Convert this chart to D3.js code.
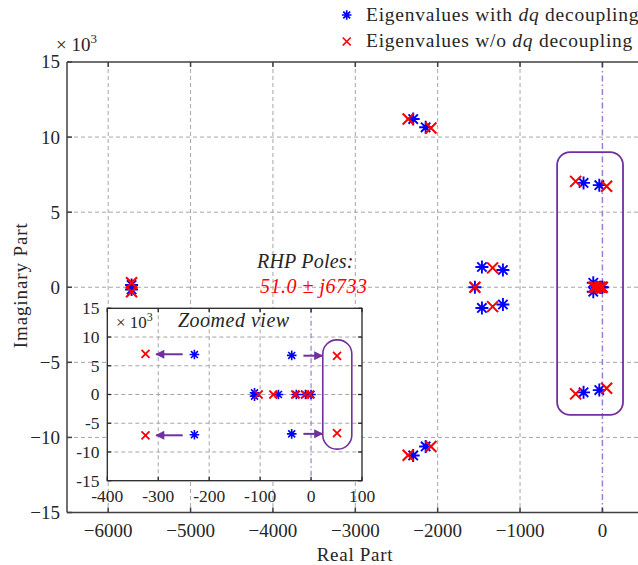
<!DOCTYPE html>
<html>
<head>
<meta charset="utf-8">
<script src="https://cdn.jsdelivr.net/npm/d3@7"></script>
<style>
	body { margin: 0; background: #fff; }
	text { font-family: 'Liberation Serif', 'DejaVu Serif', serif; fill: #262626; }
</style>
</head>
<body>
<div id="chart"></div>
<script>
// eigenvalues, [real part, imaginary part (x 10^3)]
const eigWith = [
	[-5716, 0.15], [-5716, -0.15],
	[-2297, 11.2], [-2146, 10.65], [-2297, -11.2], [-2146, -10.6],
	[-1548, 0], [-1463, 1.35], [-1208, 1.15], [-1463, -1.38], [-1208, -1.15],
	[-229, 6.95], [-38, 6.8], [-229, -7.0], [-38, -6.85],
	[-111, 0.3], [-111, -0.3], [-64, 0], [-29, 0], [-11, 0], [0, 0],
];
const eigWithout = [
	[-5716, 0.3], [-5716, -0.3],
	[-2358, 11.2], [-2082, 10.6], [-2358, -11.18], [-2082, -10.6],
	[-1548, 0], [-1333, 1.29], [-1333, -1.29],
	[-325, 7.05], [51, 6.733], [-325, -7.1], [51, -6.733],
	[-103, 0], [-74, 0], [-31, 0], [-12, 0], [-2, 0],
];
const xTicks = [-6000, -5000, -4000, -3000, -2000, -1000, 0];
const yTicks = [-15, -10, -5, 0, 5, 10, 15];
const xTicksInset = [-400, -300, -200, -100, 0, 100];
const yTicksInset = [-15, -10, -5, 0, 5, 10, 15];
const legendLabels = ['with', 'w/o'];
// arrows in the zoomed view: [x0, y0, x1, y1]
const insetArrows = [
	[-252, 7.0, -304, 7.0], [-252, -7.1, -304, -7.1],
	[-15, 6.75, 22, 6.75], [-15, -6.85, 22, -6.85],
];

const W = 638, H = 565;
const purple = '#7030a0';
const gridColor = '#a6a6a6';

const svg = d3.select('#chart').append('svg').attr('width', W).attr('height', H);

// main axes
const x = d3.scaleLinear().domain([-6500, 500]).range([67, 643.6]);
const y = d3.scaleLinear().domain([-15, 15]).range([512.5, 62]);

svg.append('clipPath').attr('id', 'clipMain')
	.append('rect').attr('x', x(-6500)).attr('y', y(15)).attr('width', x(500) - x(-6500)).attr('height', y(-15) - y(15));

const grid = svg.append('g');
grid.selectAll('line.vx').data(xTicks.filter(d => d !== 0)).join('line')
	.attr('x1', d => x(d)).attr('x2', d => x(d)).attr('y1', y(15)).attr('y2', y(-15));
grid.selectAll('line.hy').data(yTicks.filter(d => Math.abs(d) < 15)).join('line')
	.attr('x1', x(-6500)).attr('x2', W).attr('y1', d => y(d)).attr('y2', d => y(d));
grid.selectAll('line').attr('stroke', gridColor).attr('stroke-width', 1).attr('stroke-dasharray', '4,3');

// imaginary axis (dash-dot)
svg.append('line')
	.attr('x1', x(0)).attr('x2', x(0)).attr('y1', y(15)).attr('y2', y(-15))
	.attr('stroke', '#a27ad4').attr('stroke-width', 1.5).attr('stroke-dasharray', '6,3,1.5,3');

// frame and ticks
const axisColor = '#404040';
const frame = svg.append('g').attr('stroke', axisColor).attr('stroke-width', 1.5);
frame.append('line').attr('x1', x(-6500)).attr('x2', W).attr('y1', y(15)).attr('y2', y(15));
frame.append('line').attr('x1', x(-6500)).attr('x2', W).attr('y1', y(-15)).attr('y2', y(-15));
frame.append('line').attr('x1', x(-6500)).attr('x2', x(-6500)).attr('y1', y(15)).attr('y2', y(-15));
frame.selectAll('.tb').data(xTicks).join('line').attr('class', 'tb')
	.attr('x1', d => x(d)).attr('x2', d => x(d)).attr('y1', y(-15)).attr('y2', y(-15) - 5);
frame.selectAll('.tt').data(xTicks).join('line').attr('class', 'tt')
	.attr('x1', d => x(d)).attr('x2', d => x(d)).attr('y1', y(15)).attr('y2', y(15) + 5);
frame.selectAll('.tl').data(yTicks).join('line').attr('class', 'tl')
	.attr('x1', x(-6500)).attr('x2', x(-6500) + 5).attr('y1', d => y(d)).attr('y2', d => y(d));

const fmt = d3.format('d');
svg.selectAll('.xl').data(xTicks).join('text').attr('class', 'xl')
	.attr('x', d => x(d)).attr('y', 537).attr('text-anchor', 'middle').attr('font-size', 19)
	.text(d => fmt(d));
svg.selectAll('.yl').data(yTicks).join('text').attr('class', 'yl')
	.attr('x', 60).attr('y', d => y(d)).attr('dy', '0.34em').attr('text-anchor', 'end').attr('font-size', 19)
	.text(d => fmt(d));

const exp = svg.append('text').attr('x', 56).attr('y', 51).attr('font-size', 19);
exp.append('tspan').text('× 10');
exp.append('tspan').attr('font-size', 13).attr('dy', -8).text('3');

svg.append('text').attr('x', 355).attr('y', 561).attr('text-anchor', 'middle').attr('font-size', 19)
	.attr('letter-spacing', 0.7).text('Real Part');
svg.append('text').attr('transform', `translate(27,${y(0) - 2}) rotate(-90)`).attr('text-anchor', 'middle')
	.attr('font-size', 19).attr('letter-spacing', 0.9).text('Imaginary Part');

// markers
const starPath = (s) => {
	const d = s * 0.72;
	return `M${-s},0H${s}M0,${-s}V${s}M${-d},${-d}L${d},${d}M${-d},${d}L${d},${-d}`;
};
const crossPath = (s) => `M${-s},${-s}L${s},${s}M${-s},${s}L${s},${-s}`;

const drawPoints = (g, sx, sy, sStar, sCross, sw) => {
	g.selectAll('.pw').data(eigWith).join('path').attr('class', 'pw')
		.attr('transform', d => `translate(${sx(d[0])},${sy(d[1])})`)
		.attr('d', starPath(sStar)).attr('stroke', '#0000ff').attr('stroke-width', sw).attr('fill', 'none');
	g.selectAll('.po').data(eigWithout).join('path').attr('class', 'po')
		.attr('transform', d => `translate(${sx(d[0])},${sy(d[1])})`)
		.attr('d', crossPath(sCross)).attr('stroke', '#ff0000').attr('stroke-width', sw + 0.2).attr('fill', 'none');
};

// highlight box in the main plot
svg.append('rect')
	.attr('x', x(-550)).attr('y', y(9)).attr('width', x(250) - x(-550)).attr('height', y(-8.5) - y(9))
	.attr('rx', 13).attr('fill', 'none').attr('stroke', purple).attr('stroke-width', 1.8);

drawPoints(svg.append('g').attr('clip-path', 'url(#clipMain)'), x, y, 6.5, 5.5, 1.9);

// RHP annotation
svg.append('text').attr('x', 257).attr('y', 268).attr('font-size', 20).attr('font-style', 'italic')
	.attr('letter-spacing', 0.2).text('RHP Poles:');
svg.append('text').attr('x', 260).attr('y', 293).attr('font-size', 20).attr('font-style', 'italic')
	.attr('letter-spacing', 0.5).style('fill', '#ff0000').text('51.0 ± j6733');

// inset
const xi = d3.scaleLinear().domain([-400, 100]).range([107.3, 362]);
const yi = d3.scaleLinear().domain([-15, 15]).range([480.7, 308.3]);
const inset = svg.append('g');
inset.append('rect').attr('x', xi(-400)).attr('y', yi(15)).attr('width', xi(100) - xi(-400)).attr('height', yi(-15) - yi(15))
	.attr('fill', '#fff');
inset.append('clipPath').attr('id', 'clipInset')
	.append('rect').attr('x', xi(-400)).attr('y', yi(15)).attr('width', xi(100) - xi(-400)).attr('height', yi(-15) - yi(15));

const igrid = inset.append('g');
igrid.selectAll('.gx').data(xTicksInset.filter(d => d > -400 && d < 0)).join('line').attr('class', 'gx')
	.attr('x1', d => xi(d)).attr('x2', d => xi(d)).attr('y1', yi(15)).attr('y2', yi(-15));
igrid.selectAll('.gy').data(yTicksInset.filter(d => Math.abs(d) < 15)).join('line').attr('class', 'gy')
	.attr('x1', xi(-400)).attr('x2', xi(100)).attr('y1', d => yi(d)).attr('y2', d => yi(d));
igrid.selectAll('line').attr('stroke', gridColor).attr('stroke-width', 1).attr('stroke-dasharray', '4,3');

inset.append('line')
	.attr('x1', xi(0)).attr('x2', xi(0)).attr('y1', yi(15)).attr('y2', yi(-15))
	.attr('stroke', '#a27ad4').attr('stroke-width', 1.2).attr('stroke-dasharray', '5,3,1.5,3');

inset.append('text').attr('x', 178).attr('y', 327).attr('font-size', 20).attr('font-style', 'italic')
	.attr('letter-spacing', 0.5).text('Zoomed view');
const iexp = inset.append('text').attr('x', 116).attr('y', 328).attr('font-size', 17);
iexp.append('tspan').text('× 10');
iexp.append('tspan').attr('font-size', 12).attr('dy', -7).text('3');

// arrows
svg.append('defs').append('marker').attr('id', 'ah')
	.attr('viewBox', '0 0 10 10').attr('refX', 9).attr('refY', 5)
	.attr('markerWidth', 5).attr('markerHeight', 4.5).attr('orient', 'auto')
	.append('path').attr('d', 'M0,0L10,5L0,10Z').attr('fill', purple);
inset.selectAll('.ar').data(insetArrows).join('line').attr('class', 'ar')
	.attr('x1', d => xi(d[0])).attr('y1', d => yi(d[1])).attr('x2', d => xi(d[2])).attr('y2', d => yi(d[3]))
	.attr('stroke', purple).attr('stroke-width', 2).attr('marker-end', 'url(#ah)');

inset.append('rect')
	.attr('x', xi(23)).attr('y', yi(9.5)).attr('width', xi(80) - xi(23)).attr('height', yi(-9.5) - yi(9.5))
	.attr('rx', 14).attr('fill', 'none').attr('stroke', purple).attr('stroke-width', 1.6);

drawPoints(inset.append('g').attr('clip-path', 'url(#clipInset)'), xi, yi, 4.8, 4, 1.6);

const iframe = inset.append('g').attr('stroke', '#262626').attr('stroke-width', 1.3);
iframe.append('rect').attr('x', xi(-400)).attr('y', yi(15)).attr('width', xi(100) - xi(-400)).attr('height', yi(-15) - yi(15))
	.attr('fill', 'none');
iframe.selectAll('.tb').data(xTicksInset).join('line').attr('class', 'tb')
	.attr('x1', d => xi(d)).attr('x2', d => xi(d)).attr('y1', yi(-15)).attr('y2', yi(-15) - 4);
iframe.selectAll('.tt').data(xTicksInset).join('line').attr('class', 'tt')
	.attr('x1', d => xi(d)).attr('x2', d => xi(d)).attr('y1', yi(15)).attr('y2', yi(15) + 4);
iframe.selectAll('.tl').data(yTicksInset).join('line').attr('class', 'tl')
	.attr('x1', xi(-400)).attr('x2', xi(-400) + 4).attr('y1', d => yi(d)).attr('y2', d => yi(d));
iframe.selectAll('.tr').data(yTicksInset).join('line').attr('class', 'tr')
	.attr('x1', xi(100)).attr('x2', xi(100) - 4).attr('y1', d => yi(d)).attr('y2', d => yi(d));

inset.selectAll('.ixl').data(xTicksInset).join('text').attr('class', 'ixl')
	.attr('x', d => xi(d)).attr('y', 502).attr('text-anchor', 'middle').attr('font-size', 17.5).text(d => d);
inset.selectAll('.iyl').data(yTicksInset).join('text').attr('class', 'iyl')
	.attr('x', 99.5).attr('y', d => yi(d)).attr('dy', '0.34em').attr('text-anchor', 'end').attr('font-size', 17.5).text(d => d);

// legend
const legend = svg.append('g');
legendLabels.forEach((lab, i) => {
	const ly = 15 + i * 26.5;
	legend.append('path').attr('transform', `translate(346.7,${ly})`)
		.attr('d', i === 0 ? starPath(4.8) : crossPath(4))
		.attr('stroke', i === 0 ? '#0000ff' : '#ff0000').attr('stroke-width', 1.7).attr('fill', 'none');
	const t = legend.append('text').attr('x', 366).attr('y', ly + 5.5).attr('font-size', 19.5)
		.attr('letter-spacing', 0.75);
	t.append('tspan').text(`Eigenvalues ${lab} `);
	t.append('tspan').attr('font-style', 'italic').text('dq');
	t.append('tspan').text(' decoupling');
});
</script>
</body>
</html>
